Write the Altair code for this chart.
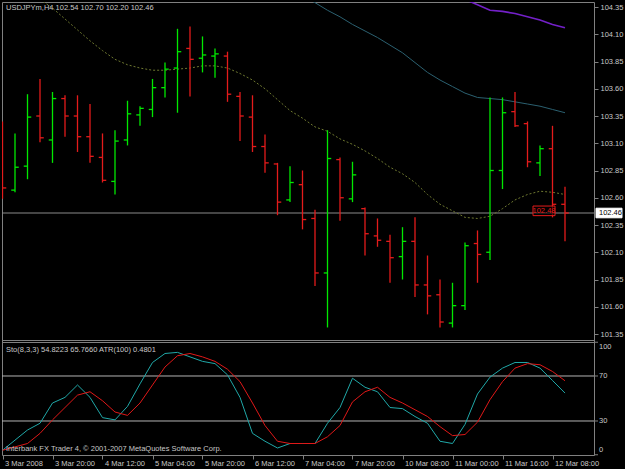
import altair as alt
import pandas as pd

# ---------------- data ----------------
symbol = "USDJPYm,H4"
opens = [103.10, 102.67, 102.89, 103.35, 103.13, 103.51, 103.35, 103.16, 102.97, 102.75,
         103.13, 103.36, 103.41, 103.61, 103.79, 103.97, 103.88, 103.90, 103.90, 103.53,
         103.34, 103.07, 102.91, 102.58, 102.72, 102.41, 101.91, 102.95, 102.59, 102.50,
         102.25, 102.20, 102.06, 102.20, 101.80, 101.71, 101.45, 101.61, 102.18, 102.10,
         102.85, 103.39, 103.28, 102.92, 103.05, 102.54]
highs = [103.30, 103.19, 103.55, 103.69, 103.57, 103.54, 103.54, 103.46, 103.19, 103.22,
         103.49, 103.44, 103.69, 103.84, 104.15, 104.17, 104.08, 103.97, 103.94, 103.57,
         103.54, 103.18, 102.92, 102.89, 102.85, 102.49, 103.22, 102.97, 102.93, 102.51,
         102.41, 102.26, 102.33, 102.42, 102.07, 101.85, 101.82, 102.19, 102.30, 103.52,
         103.52, 103.57, 103.30, 103.08, 103.26, 102.70]
lows = [102.59, 102.65, 102.77, 103.11, 102.92, 103.16, 103.02, 102.92, 102.74, 102.63,
        103.08, 103.26, 103.34, 103.52, 103.38, 103.53, 103.75, 103.70, 103.48, 103.12,
        103.02, 102.83, 102.44, 102.56, 102.31, 101.79, 101.41, 102.39, 102.56, 102.07,
        102.15, 101.82, 101.85, 101.69, 101.53, 101.41, 101.41, 101.57, 101.82, 102.03,
        102.68, 103.25, 102.88, 102.80, 102.42, 102.20]
closes = [102.69, 102.88, 103.34, 103.15, 103.51, 103.35, 103.16, 102.98, 102.76, 103.12,
          103.37, 103.42, 103.61, 103.78, 103.94, 103.87, 103.91, 103.92, 103.55, 103.35,
          103.07, 102.92, 102.56, 102.74, 102.40, 101.91, 102.96, 102.60, 102.81, 102.27,
          102.21, 102.05, 102.20, 101.80, 101.70, 101.46, 101.61, 102.16, 102.08, 102.85,
          103.38, 103.26, 102.93, 103.05, 102.54, 102.46]

ma_fast = [None, None, None, 104.42, 104.34, 104.24, 104.14, 104.04, 103.95, 103.87,
           103.82, 103.79, 103.77, 103.77, 103.78, 103.79, 103.81, 103.81, 103.79, 103.74,
           103.68, 103.60, 103.50, 103.40, 103.33, 103.25, 103.21, 103.14, 103.09, 103.03,
           102.96, 102.88, 102.82, 102.74, 102.63, 102.54, 102.48, 102.42, 102.41, 102.43,
           102.50, 102.58, 102.63, 102.66, 102.65, 102.63]
ma_mid = [None] * 24 + [104.45, 104.39, 104.32, 104.26, 104.19, 104.13, 104.07, 104.00,
                        103.93, 103.84, 103.75, 103.68, 103.62, 103.56, 103.52, 103.51,
                        103.50, 103.48, 103.46, 103.44, 103.41, 103.38]
ma_slow = [None] * 37 + [104.42, 104.37, 104.32, 104.31, 104.29, 104.26, 104.23, 104.19, 104.16]

sto_main = [4, 13, 22, 28, 46, 51, 62, 51, 33, 31, 43, 63, 82, 90, 91, 87, 83, 81, 71, 51,
            19, 12, 6, 10, 10, 10, 28, 42, 68, 60, 56, 42, 41, 34, 28, 12, 10, 27, 54, 69,
            77, 82, 82, 77, 66, 54.8223]
sto_signal = [4, 7, 10, 19, 31, 42, 53, 56, 48, 38, 35, 46, 62, 78, 88, 90, 87, 83, 76, 65,
              46, 26, 12, 10, 10, 10, 16, 26, 47, 56, 60, 51, 46, 40, 34, 25, 17, 18, 29, 49,
              65, 77, 81, 80, 74, 65.7660]
atr_value = 0.4801

time_labels = ["3 Mar 2008", "3 Mar 20:00", "4 Mar 12:00", "5 Mar 04:00", "5 Mar 20:00",
               "6 Mar 12:00", "7 Mar 04:00", "7 Mar 20:00", "10 Mar 08:00", "11 Mar 00:00",
               "11 Mar 16:00", "12 Mar 08:00"]
time_label_bars = [0, 4, 8, 12, 16, 20, 24, 28, 32, 36, 40, 44]
price_ticks = [101.35, 101.60, 101.85, 102.10, 102.35, 102.60, 102.85, 103.10, 103.35,
               103.60, 103.85, 104.10, 104.35]
sto_levels = [70, 30]
sto_ticks = [100, 70, 30, 0]
bid = 102.46
obj_price = 102.48

# ---------------- styles ----------------
BG = "#000000"
FRAME = "#808080"
TXT = "#c8c8c8"
GREEN = "#00e800"
RED = "#e41b1b"
FONT = "Liberation Sans"
FS = 7.5

W, H = 592, 453
X_DOM = [-0.04, 47.32]
P_DOM = [100.2399, 104.3959]
S_DOM = [-0.222, 402.44]

xs = alt.Scale(domain=X_DOM, nice=False, zero=False)
ps = alt.Scale(domain=P_DOM, nice=False, zero=False)
ss = alt.Scale(domain=S_DOM, nice=False, zero=False)

label_expr = "[" + ",".join('"%s"' % t for t in time_labels) + "][round(datum.value/4)]"
X_AXIS = alt.Axis(values=time_label_bars, labelExpr=label_expr, orient="bottom",
                  labelAlign="left", labelBaseline="top", labelPadding=0, labelOffset=2,
                  tickSize=4, tickColor=FRAME, labelColor=TXT, labelFont=FONT,
                  labelFontSize=FS, domain=False, grid=False, title=None,
                  labelOverlap=False, labelFlush=False, labelBound=False)

PRICE_AXIS = alt.Axis(values=price_ticks, format=".2f", orient="right", tickSize=4,
                      tickColor=FRAME, labelColor=TXT, labelFont=FONT, labelFontSize=FS,
                      labelPadding=2, domain=False, grid=False, title=None,
                      labelOverlap=False, labelBound=False, labelFlush=False)


def X(field="i"):
    return alt.X(field + ":Q", scale=xs, axis=X_AXIS)


def PY(field):
    return alt.Y(field, scale=ps, axis=PRICE_AXIS)


n = len(opens)
bars = pd.DataFrame({"i": list(range(n)), "o": opens, "h": highs, "l": lows, "c": closes})
bars["dir"] = ["up" if c >= o else "down" for o, c in zip(opens, closes)]
dir_color = alt.Color("dir:N", scale=alt.Scale(domain=["up", "down"], range=[GREEN, RED]),
                      legend=None)


def series(vals):
    return pd.DataFrame([{"i": i, "p": v} for i, v in enumerate(vals) if v is not None])


one = pd.DataFrame({"k": [0]})
bid_df = pd.DataFrame({"p": [bid]})
obj_df = pd.DataFrame({"p": [obj_price]})
HALF = 4.8 / 109.0  # half label height in price units

bid_rule = alt.Chart(bid_df).mark_rule(color="#8a8a8a", strokeWidth=1).encode(
    y=PY("p:Q"))

ma1 = alt.Chart(series(ma_fast)).mark_line(color="#6e7830", strokeWidth=1,
                                           strokeDash=[2, 2], clip=True).encode(
    x=X(), y=PY("p:Q"))
ma2 = alt.Chart(series(ma_mid)).mark_line(color="#2b6070", strokeWidth=1, clip=True).encode(
    x=X(), y=PY("p:Q"))
ma3 = alt.Chart(series(ma_slow)).mark_line(color="#7320c8", strokeWidth=1.6, clip=True).encode(
    x=X(), y=PY("p:Q"))

hl = alt.Chart(bars).mark_rule(strokeWidth=1.3, clip=True).encode(
    x=X(), y=PY("h:Q"), y2="l:Q", color=dir_color)
otick = alt.Chart(bars).transform_calculate(xo="datum.i - 0.3").mark_rule(
    strokeWidth=1.3, clip=True).encode(
    x=X("xo"), x2="i:Q", y=PY("o:Q"), color=dir_color)
ctick = alt.Chart(bars).transform_calculate(xc="datum.i + 0.3").mark_rule(
    strokeWidth=1.3, clip=True).encode(
    x=X("i"), x2="xc:Q", y=PY("c:Q"), color=dir_color)

obj_box = alt.Chart(obj_df).transform_calculate(
    top="datum.p + %f" % HALF, bot="datum.p - %f" % HALF).mark_rect(
    fill=BG, fillOpacity=0.6, stroke=RED, strokeWidth=1).encode(
    x=alt.value(531), x2=alt.value(553), y=PY("top:Q"), y2="bot:Q")
obj_txt = alt.Chart(obj_df).mark_text(color=RED, font=FONT, fontSize=FS,
                                      align="center", baseline="middle").encode(
    x=alt.value(542), y=PY("p:Q"), text=alt.Text("p:Q", format=".2f"))

bid_box = alt.Chart(bid_df).transform_calculate(
    top="datum.p + %f" % HALF, bot="datum.p - %f" % HALF).mark_rect(
    fill="#ffffff", stroke="#ffffff").encode(
    x=alt.value(594), x2=alt.value(620), y=PY("top:Q"), y2="bot:Q")
bid_txt = alt.Chart(bid_df).mark_text(color="#000000", font=FONT, fontSize=FS,
                                      align="left", baseline="middle").encode(
    x=alt.value(597), y=PY("p:Q"), text=alt.Text("p:Q", format=".2f"))

title_txt = alt.Chart(one).mark_text(color=TXT, font=FONT, fontSize=FS, align="left",
                                     baseline="middle").encode(
    x=alt.value(4), y=alt.value(6),
    text=alt.value("%s  %.2f %.2f %.2f %.2f" % (symbol, opens[-1], highs[-1],
                                               lows[-1], closes[-1])))

price_layer = alt.layer(bid_rule, ma1, ma2, ma3, hl, otick, ctick, obj_box, obj_txt,
                        bid_box, bid_txt, title_txt)

# ---------------- stochastic panel ----------------
sto_df = pd.DataFrame({"i": list(range(n)), "m": sto_main, "s": sto_signal})
lev_df = pd.DataFrame({"v": sto_levels})

lev = alt.Chart(lev_df).mark_rule(color="#b4b4b4", strokeWidth=1).encode(
    y=alt.Y("v:Q", scale=ss, axis=None))
main_line = alt.Chart(sto_df).mark_line(color="#20a8a8", strokeWidth=1).encode(
    x=X(), y=alt.Y("m:Q", scale=ss, axis=None))
sig_line = alt.Chart(sto_df).mark_line(color="#e01818", strokeWidth=1).encode(
    x=X(), y=alt.Y("s:Q", scale=ss, axis=None))

tick_df = pd.DataFrame({"v": sto_ticks})
sto_tickmarks = alt.Chart(tick_df).mark_rule(color=FRAME).encode(
    x=alt.value(592), x2=alt.value(596), y=alt.Y("v:Q", scale=ss, axis=None))
lab_top = alt.Chart(tick_df).transform_filter("datum.v == 100").mark_text(
    color=TXT, font=FONT, fontSize=FS, align="left", baseline="top", dy=1).encode(
    x=alt.value(597), y=alt.Y("v:Q", scale=ss, axis=None), text="v:Q")
lab_mid = alt.Chart(tick_df).transform_filter("datum.v > 0 && datum.v < 100").mark_text(
    color=TXT, font=FONT, fontSize=FS, align="left", baseline="middle").encode(
    x=alt.value(597), y=alt.Y("v:Q", scale=ss, axis=None), text="v:Q")
lab_bot = alt.Chart(tick_df).transform_filter("datum.v == 0").mark_text(
    color=TXT, font=FONT, fontSize=FS, align="left", baseline="bottom", dy=-1).encode(
    x=alt.value(597), y=alt.Y("v:Q", scale=ss, axis=None), text="v:Q")

sto_txt = alt.Chart(one).mark_text(color=TXT, font=FONT, fontSize=FS, align="left",
                                   baseline="middle").encode(
    x=alt.value(4), y=alt.value(348),
    text=alt.value("Sto(8,3,3) %.4f %.4f   ATR(100) %.4f" % (sto_main[-1], sto_signal[-1],
                                                             atr_value)))
copy_txt = alt.Chart(one).mark_text(color=TXT, font=FONT, fontSize=FS, align="left",
                                    baseline="middle").encode(
    x=alt.value(4), y=alt.value(447),
    text=alt.value("Interbank FX Trader 4, \u00a9 2001-2007 MetaQuotes Software Corp."))

sep = alt.Chart(pd.DataFrame({"yy": [338.5, 340.5]})).mark_rule(color=FRAME).encode(
    y=alt.Y("yy:Q", scale=alt.Scale(domain=[0, H], range=[0, H], nice=False), axis=None),
    x=alt.value(0), x2=alt.value(W))

sto_layer = alt.layer(lev, main_line, sig_line, sto_tickmarks, lab_top, lab_mid, lab_bot,
                      sto_txt, copy_txt)

chart = alt.layer(price_layer, sto_layer, sep).resolve_scale(y="independent").properties(
    width=W, height=H,
    autosize=alt.AutoSizeParams(type="none"),
    padding={"left": 2, "top": 2, "right": 31, "bottom": 14},
    background=BG,
).configure_view(stroke=FRAME, strokeWidth=1)

chart.save("out.html", embed_options={"renderer": "svg", "actions": False})
